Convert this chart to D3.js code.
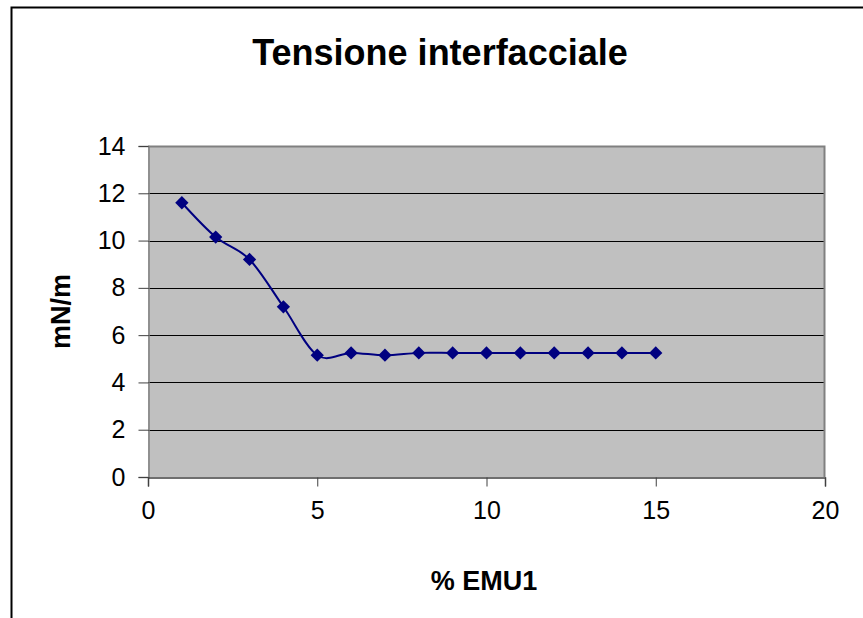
<!DOCTYPE html>
<html>
<head>
<meta charset="utf-8">
<script src="https://cdn.jsdelivr.net/npm/d3@7"></script>
<style>
  body { margin: 0; background: #fff; }
  text { font-family: "Liberation Sans", Arial, sans-serif; fill: #000; }
</style>
</head>
<body>
<div id="chart"></div>
<script>
// data
const emu = [1, 2, 3, 4, 5, 6, 7, 8, 9, 10, 11, 12, 13, 14, 15];
const tension = [11.6, 10.15, 9.2, 7.2, 5.15, 5.25, 5.15, 5.25, 5.25, 5.25, 5.25, 5.25, 5.25, 5.25, 5.25];
const xTicks = [0, 5, 10, 15, 20];
const yTicks = [0, 2, 4, 6, 8, 10, 12, 14];

const width = 863;
const height = 618;
const plot = { left: 148, right: 825, top: 146, bottom: 477 };

const svg = d3.select("#chart")
  .append("svg")
  .attr("width", width)
  .attr("height", height);

// outer chart frame (runs off the right and bottom)
svg.append("rect")
  .attr("x", 11.5)
  .attr("y", 7.5)
  .attr("width", 900)
  .attr("height", 700)
  .attr("fill", "#fff")
  .attr("stroke", "#000")
  .attr("stroke-width", 2);

const x = d3.scaleLinear().domain([0, 20]).range([plot.left, plot.right]);
const y = d3.scaleLinear().domain([0, 14]).range([plot.bottom, plot.top]);

// grey plot area
svg.append("rect")
  .attr("x", plot.left)
  .attr("y", plot.top)
  .attr("width", plot.right - plot.left)
  .attr("height", plot.bottom - plot.top)
  .attr("fill", "#c0c0c0");

// horizontal gridlines
svg.append("g")
  .selectAll("line")
  .data(yTicks.filter(d => d > 0 && d < 14))
  .enter()
  .append("line")
  .attr("x1", plot.left)
  .attr("x2", plot.right)
  .attr("y1", d => Math.round(y(d)) + 0.5)
  .attr("y2", d => Math.round(y(d)) + 0.5)
  .attr("stroke", "#000")
  .attr("stroke-width", 1);

// top and right border of plot area
svg.append("path")
  .attr("d", "M" + plot.left + "," + (plot.top + 0.5) + "H" + (plot.right - 0.5) + "V" + plot.bottom)
  .attr("fill", "none")
  .attr("stroke", "#808080")
  .attr("stroke-width", 2);

// y axis
const yAxis = svg.append("g")
  .attr("transform", "translate(" + (plot.left + 0.5) + ",0)")
  .call(d3.axisLeft(y).tickValues(yTicks).tickSize(10).tickPadding(13).tickFormat(d3.format("d")));
yAxis.select(".domain").attr("stroke", "#808080").attr("stroke-width", 1.5);
yAxis.selectAll(".tick line").attr("stroke", "#404040");
yAxis.selectAll(".tick text")
  .style("font-family", '"Liberation Sans", Arial, sans-serif')
  .style("font-size", "25px")
  .attr("fill", "#000");

// x axis
const xAxis = svg.append("g")
  .attr("transform", "translate(0," + (plot.bottom + 0.5) + ")")
  .call(d3.axisBottom(x).tickValues(xTicks).tickSize(9).tickPadding(15).tickFormat(d3.format("d")));
xAxis.select(".domain").attr("stroke", "#404040").attr("stroke-width", 1.5);
xAxis.selectAll(".tick line").attr("stroke", "#404040");
xAxis.selectAll(".tick text")
  .style("font-family", '"Liberation Sans", Arial, sans-serif')
  .style("font-size", "25px")
  .attr("fill", "#000");

// smoothed series line
const pts = emu.map((d, i) => [d, tension[i]]);
const line = d3.line()
  .x(d => x(d[0]))
  .y(d => y(d[1]))
  .curve(d3.curveCardinal.tension(0));

svg.append("path")
  .datum(pts)
  .attr("d", line)
  .attr("fill", "none")
  .attr("stroke", "#000080")
  .attr("stroke-width", 2);

// diamond markers
svg.append("g")
  .selectAll("path")
  .data(pts)
  .enter()
  .append("path")
  .attr("d", d3.symbol(d3.symbolSquare, 88))
  .attr("transform", d => "translate(" + x(d[0]) + "," + y(d[1]) + ") rotate(45)")
  .attr("fill", "#000080");

// titles
svg.append("text")
  .attr("x", 440)
  .attr("y", 65)
  .attr("text-anchor", "middle")
  .style("font-size", "36px")
  .style("font-weight", "bold")
  .text("Tensione interfacciale");

svg.append("text")
  .attr("transform", "translate(70," + ((plot.top + plot.bottom) / 2) + ") rotate(-90)")
  .attr("text-anchor", "middle")
  .style("font-size", "27px")
  .style("font-weight", "bold")
  .text("mN/m");

svg.append("text")
  .attr("x", 484)
  .attr("y", 590)
  .attr("text-anchor", "middle")
  .style("font-size", "27px")
  .style("font-weight", "bold")
  .text("% EMU1");
</script>
</body>
</html>
